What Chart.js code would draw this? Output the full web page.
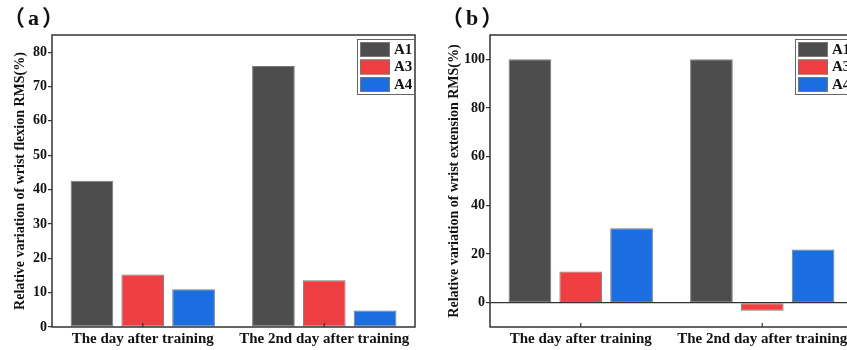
<!DOCTYPE html>
<html><head><meta charset="utf-8">
<script src="https://cdn.jsdelivr.net/npm/chart.js@4"></script>
<style>
html,body{margin:0;padding:0;background:#fff;overflow:hidden;width:847px;height:350px;}
.box{position:absolute;top:0;height:350px;}
</style></head><body>
<div class="box" style="left:0;width:425px"><canvas id="ca" width="425" height="350"></canvas></div>
<div class="box" style="left:425px;width:445px"><canvas id="cb" width="445" height="350"></canvas></div>
<script>
const categories = ["The day after training", "The 2nd day after training"];
const seriesNames = ["A1", "A3", "A4"];
const flexA1 = [42.6, 76.0];
const flexA3 = [15.3, 13.6];
const flexA4 = [11.0, 4.8];
const extA1 = [100, 100];
const extA3 = [12.8, -3.3];
const extA4 = [30.6, 21.8];
const flexTicks = [0, 10, 20, 30, 40, 50, 60, 70, 80];
const extTicks = [0, 20, 40, 60, 80, 100];
const colors = ["#4d4d4d", "#ef3f42", "#1a6ee0"];

const SERIF = "'Liberation Serif', 'Times New Roman', 'Noto Sans CJK SC', serif";

const decor = {
  id: 'decor',
  afterDraw(chart, args, opts) {
    const ctx = chart.ctx, ca = chart.chartArea;
    ctx.save();
    // frame
    ctx.strokeStyle = '#333'; ctx.lineWidth = 1.5;
    ctx.strokeRect(ca.left, ca.top, ca.right - ca.left, ca.bottom - ca.top);
    // inward x ticks
    const xs = chart.scales.x;
    ctx.lineWidth = 1.2;
    for (let i = 0; i < xs.ticks.length; i++) {
      const px = xs.getPixelForTick(i);
      ctx.beginPath(); ctx.moveTo(px, ca.bottom); ctx.lineTo(px, ca.bottom - 4); ctx.stroke();
    }
    // legend
    const bw = 58, bh = 56;
    const bx = ca.right - bw, by = ca.top + 4;
    ctx.fillStyle = '#fff'; ctx.fillRect(bx, by, bw, bh);
    ctx.strokeStyle = '#666'; ctx.lineWidth = 1;
    ctx.strokeRect(bx + 0.5, by + 0.5, bw - 1, bh - 1);
    chart.data.datasets.forEach((ds, i) => {
      const sy = by + 3 + i * 17.5;
      ctx.fillStyle = ds.backgroundColor;
      ctx.fillRect(bx + 3, sy, 30, 15);
      ctx.strokeStyle = '#777';
      ctx.strokeRect(bx + 3.5, sy + 0.5, 29, 14);
      ctx.fillStyle = '#111';
      ctx.font = 'bold 15px ' + SERIF;
      ctx.textBaseline = 'middle'; ctx.textAlign = 'left';
      ctx.fillText(ds.label, bx + 37, sy + 8);
    });
    // panel label
    ctx.font = 'bold 22px ' + SERIF;
    ctx.fillStyle = '#111';
    ctx.textBaseline = 'middle'; ctx.textAlign = 'left';
    ctx.letterSpacing = '3px';
    ctx.fillText(opts.label, opts.lx, 19);
    ctx.restore();
  }
};

function makeChart(id, a1, a3, a4, ticks, ymin, ymax, title, yWidth, padRight, titlePad, label, lx, zeroLine) {
  return new Chart(document.getElementById(id), {
    type: 'bar',
    data: {
      labels: categories,
      datasets: [
        { label: seriesNames[0], data: a1, backgroundColor: colors[0] },
        { label: seriesNames[1], data: a3, backgroundColor: colors[1] },
        { label: seriesNames[2], data: a4, backgroundColor: colors[2] }
      ].map(d => Object.assign(d, { borderColor: '#7a7a7a', borderWidth: 1, borderSkipped: false,
        barPercentage: 0.84, categoryPercentage: 0.84 }))
    },
    options: {
      responsive: false, animation: false,
      layout: { padding: { left: 0, top: 35, right: padRight, bottom: 0 } },
      plugins: { legend: { display: false }, tooltip: { enabled: false }, decor: { label: label, lx: lx } },
      scales: {
        x: {
          grid: { display: false, drawTicks: false },
          border: { display: false },
          ticks: { color: '#111', font: { family: SERIF, size: 15, weight: 'bold' }, padding: 3, maxRotation: 0, autoSkip: false },
          afterFit: s => { s.height = 23; }
        },
        y: {
          min: ymin, max: ymax,
          afterBuildTicks: s => { s.ticks = ticks.map(v => ({ value: v })); },
          grid: {
            drawOnChartArea: zeroLine,
            color: c => (c.tick && c.tick.value === 0) ? '#333' : 'rgba(0,0,0,0)',
            lineWidth: 1.2,
            tickColor: '#333', tickLength: 4
          },
          border: { display: false },
          ticks: { color: '#111', font: { family: SERIF, size: 14, weight: 'bold' }, padding: 1 },
          title: { display: true, text: title, color: '#111', font: { family: SERIF, size: 14, weight: 'bold' }, padding: { top: titlePad, bottom: 0 } },
          afterFit: s => { s.width = yWidth; }
        }
      }
    },
    plugins: [decor]
  });
}

makeChart('ca', flexA1, flexA3, flexA4, flexTicks, 0, 85,
  'Relative variation of wrist flexion RMS(%)', 52, 10, 11.6, '（a）', 3, false);
makeChart('cb', extA1, extA3, extA4, extTicks, -10, 110,
  'Relative variation of wrist extension RMS(%)', 65, 17, 20.6, '（b）', 16, true);
</script>
</body></html>
